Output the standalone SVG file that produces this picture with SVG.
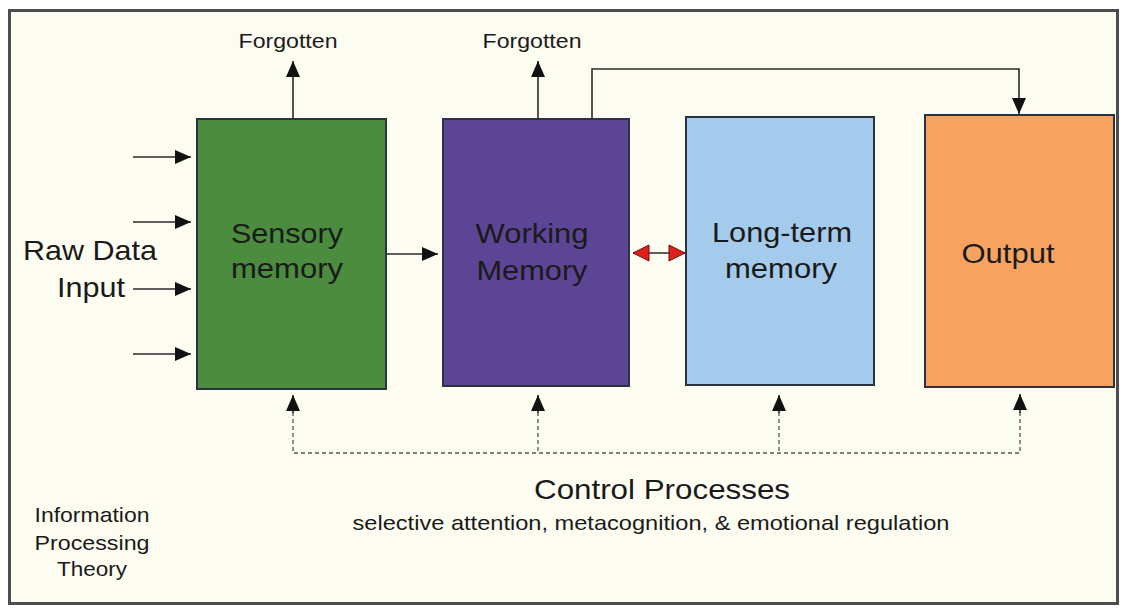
<svg xmlns="http://www.w3.org/2000/svg" width="1124" height="608" viewBox="0 0 1124 608">
<style>
  text { font-family: "Liberation Sans", Arial, sans-serif; fill: #1a1a1a; }
  .big { font-size: 28px; text-anchor: middle; }
  .small { font-size: 21px; text-anchor: middle; }
  .box { stroke: #2b3340; stroke-width: 2; }
  .line { stroke: #2a2a2a; stroke-width: 1.6; fill: none; }
  .dash { stroke: #555; stroke-width: 1.3; fill: none; stroke-dasharray: 4 3; }
</style>
<defs>
  <marker id="ah" markerUnits="userSpaceOnUse" markerWidth="16" markerHeight="14" refX="16" refY="7" orient="auto">
    <path d="M0,0 L16,7 L0,14 z" fill="#111"/>
  </marker>
  <marker id="rh" markerUnits="userSpaceOnUse" markerWidth="18" markerHeight="18" refX="17" refY="9" orient="auto-start-reverse">
    <path d="M1,1 L17,9 L1,17 z" fill="#e0201a" stroke="#6a1010" stroke-width="1"/>
  </marker>
</defs>
<rect x="0" y="0" width="1124" height="608" fill="#ffffff"/>
<rect x="9.5" y="10.5" width="1108" height="593" fill="#fdfcf1" stroke="#4d4d4f" stroke-width="3"/>

<g id="connectors">
  <line class="line" x1="133" y1="157" x2="191" y2="157" marker-end="url(#ah)"/>
  <line class="line" x1="133" y1="222" x2="191" y2="222" marker-end="url(#ah)"/>
  <line class="line" x1="133" y1="289" x2="191" y2="289" marker-end="url(#ah)"/>
  <line class="line" x1="133" y1="354" x2="191" y2="354" marker-end="url(#ah)"/>
  <line class="line" x1="386" y1="254" x2="438" y2="254" marker-end="url(#ah)"/>
  <line class="line" x1="293" y1="119" x2="293" y2="61" marker-end="url(#ah)"/>
  <line class="line" x1="538" y1="119" x2="538" y2="61" marker-end="url(#ah)"/>
  <polyline class="line" points="592,119 592,69 1019,69 1019,114" marker-end="url(#ah)"/>
  <line class="line" x1="633" y1="253" x2="685" y2="253" marker-start="url(#rh)" marker-end="url(#rh)"/>
  <polyline class="dash" points="293,412 293,453 1020,453 1020,412"/>
  <line class="dash" x1="538" y1="412" x2="538" y2="453"/>
  <line class="dash" x1="779" y1="412" x2="779" y2="453"/>
  <line class="line" x1="293" y1="413" x2="293" y2="395" marker-end="url(#ah)" stroke-width="0.5"/>
  <line class="line" x1="538" y1="413" x2="538" y2="395" marker-end="url(#ah)" stroke-width="0.5"/>
  <line class="line" x1="779" y1="413" x2="779" y2="395" marker-end="url(#ah)" stroke-width="0.5"/>
  <line class="line" x1="1020" y1="413" x2="1020" y2="394" marker-end="url(#ah)" stroke-width="0.5"/>
</g>

<g id="sensory">
  <rect class="box" x="197" y="119" width="189" height="270" fill="#4b8c3e"/>
  <text class="big" x="287" y="243" textLength="112" lengthAdjust="spacingAndGlyphs">Sensory</text>
  <text class="big" x="287" y="278" textLength="112" lengthAdjust="spacingAndGlyphs">memory</text>
</g>
<g id="working">
  <rect class="box" x="443" y="119" width="186" height="267" fill="#5d4595"/>
  <text class="big" x="532" y="243" textLength="113" lengthAdjust="spacingAndGlyphs">Working</text>
  <text class="big" x="532" y="280" textLength="111" lengthAdjust="spacingAndGlyphs">Memory</text>
</g>
<g id="longterm">
  <rect class="box" x="686" y="117" width="188" height="268" fill="#a5cbec"/>
  <text class="big" x="782" y="242" textLength="140" lengthAdjust="spacingAndGlyphs">Long-term</text>
  <text class="big" x="781" y="278" textLength="112" lengthAdjust="spacingAndGlyphs">memory</text>
</g>
<g id="output">
  <rect class="box" x="925" y="115" width="189" height="272" fill="#f8a260" stroke="#4a3020"/>
  <text class="big" x="1008" y="263" textLength="93" lengthAdjust="spacingAndGlyphs">Output</text>
</g>

<g id="labels">
  <text class="small" x="288" y="48" textLength="99" lengthAdjust="spacingAndGlyphs">Forgotten</text>
  <text class="small" x="532" y="48" textLength="99" lengthAdjust="spacingAndGlyphs">Forgotten</text>
  <text class="big" x="90" y="260" textLength="134" lengthAdjust="spacingAndGlyphs">Raw Data</text>
  <text class="big" x="91" y="297" textLength="68" lengthAdjust="spacingAndGlyphs">Input</text>
  <text class="big" x="662" y="499" font-size="29" textLength="256" lengthAdjust="spacingAndGlyphs">Control Processes</text>
  <text class="small" x="651" y="530" textLength="597" lengthAdjust="spacingAndGlyphs">selective attention, metacognition, &amp; emotional regulation</text>
  <text class="small" x="92" y="522" textLength="115" lengthAdjust="spacingAndGlyphs">Information</text>
  <text class="small" x="92" y="550" textLength="115" lengthAdjust="spacingAndGlyphs">Processing</text>
  <text class="small" x="92" y="576" textLength="70" lengthAdjust="spacingAndGlyphs">Theory</text>
</g>
</svg>
